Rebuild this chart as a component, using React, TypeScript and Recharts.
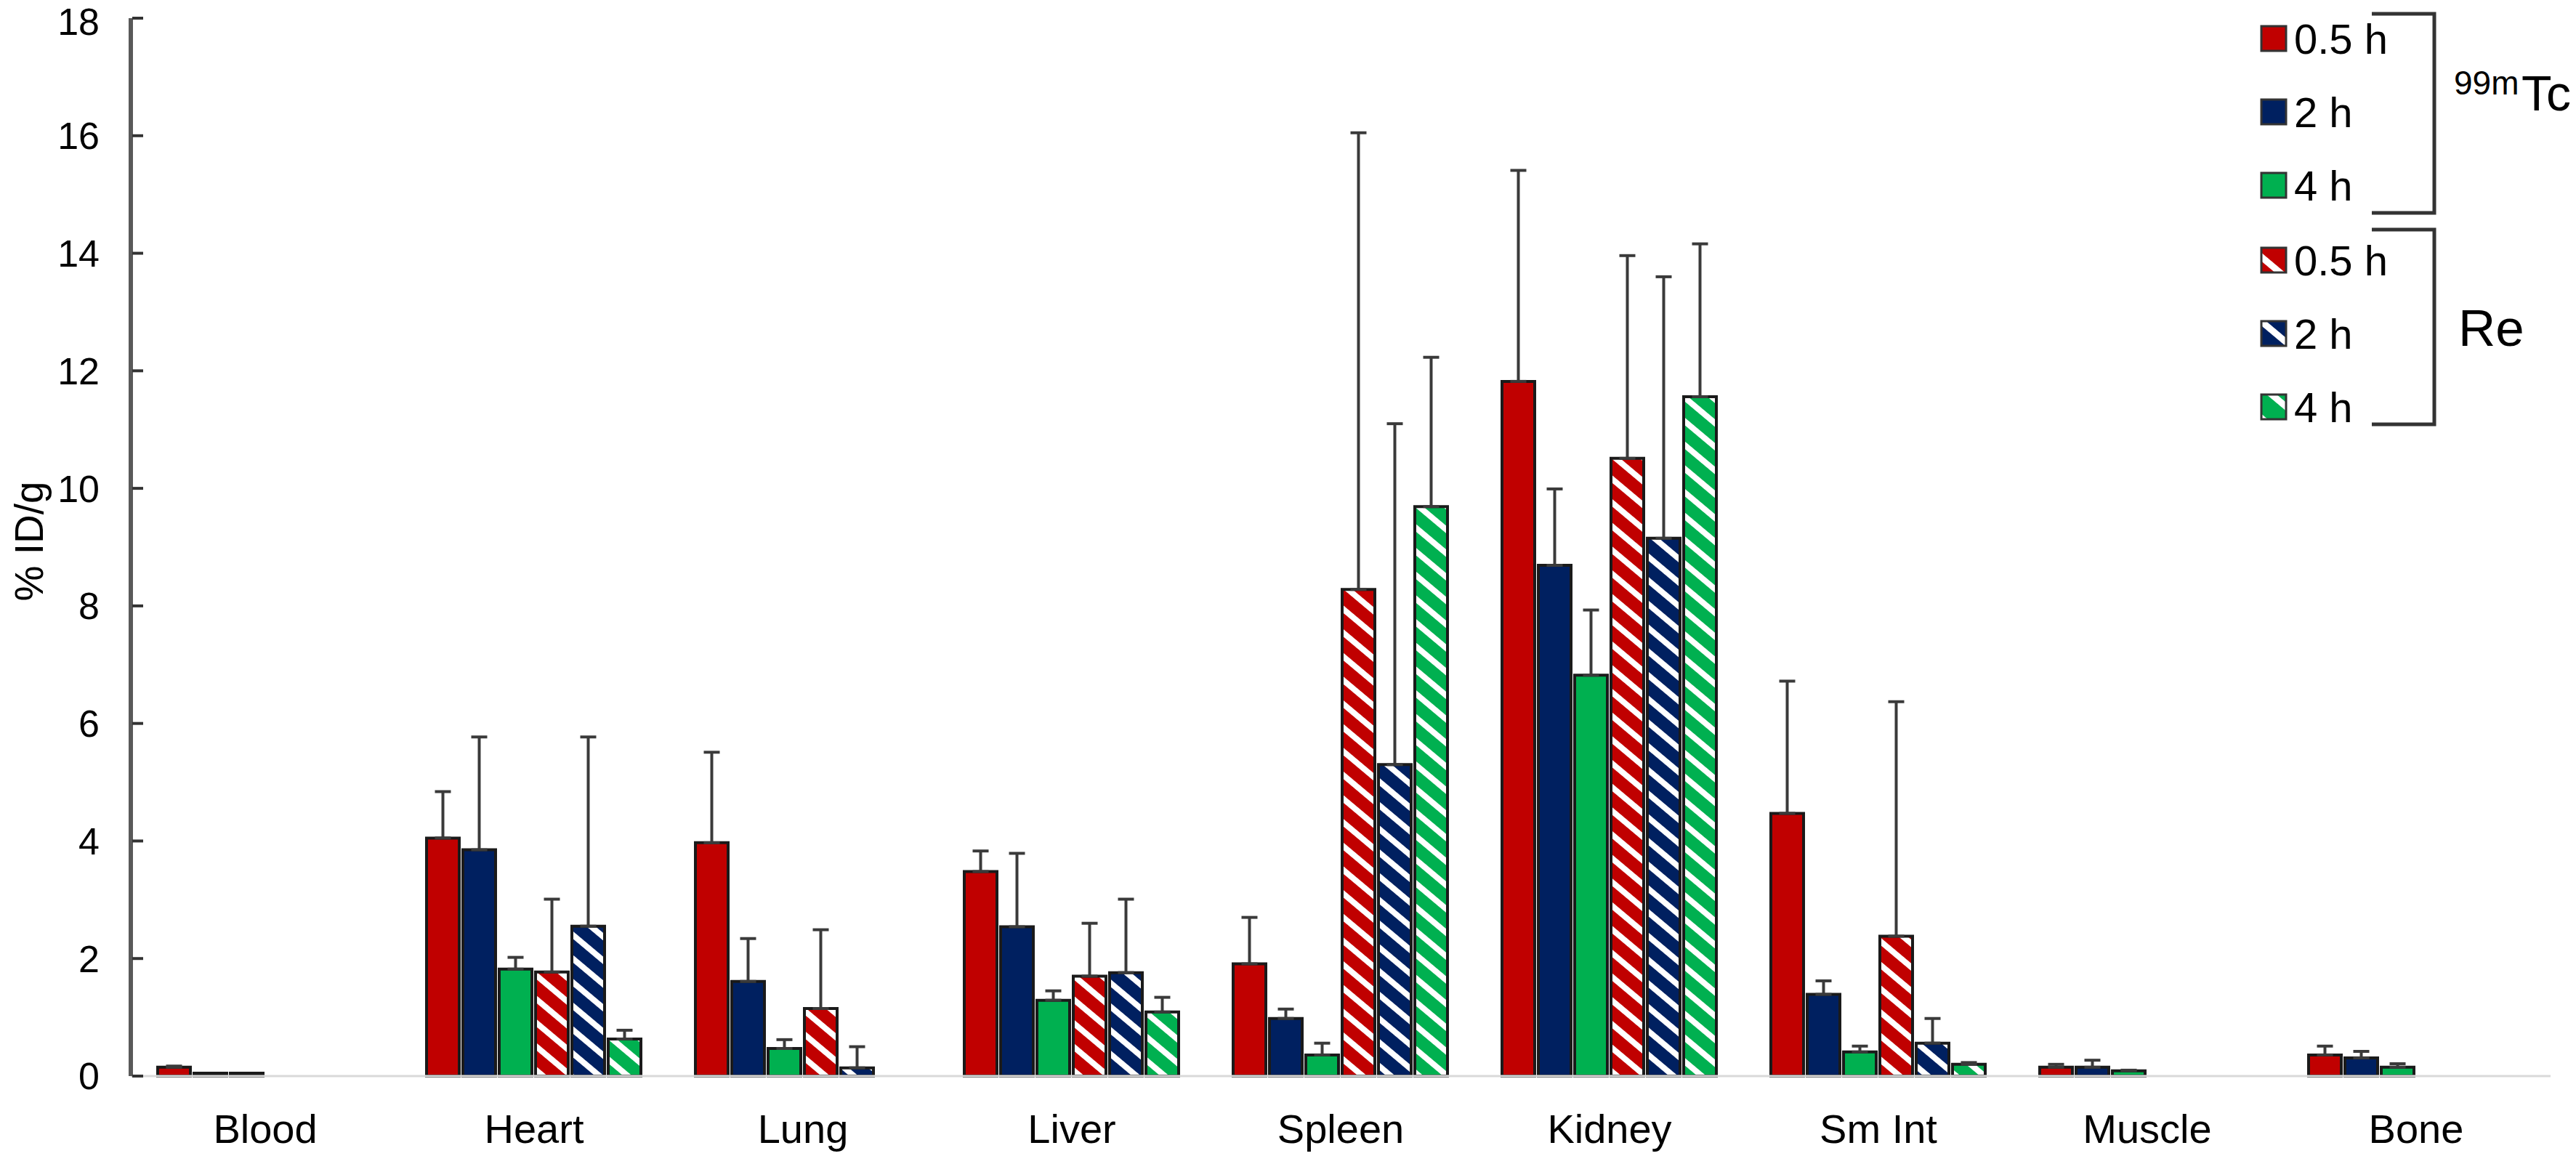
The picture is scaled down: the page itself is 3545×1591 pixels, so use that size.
import React from "react";
import { BarChart, Bar, XAxis, YAxis, ErrorBar } from "recharts";

// organs on the x axis
const categories = ["Blood", "Heart", "Lung", "Liver", "Spleen", "Kidney", "Sm Int", "Muscle", "Bone"];

// 99mTc, %ID/g
const tc05 = [0.15, 4.05, 3.97, 3.48, 1.91, 11.82, 4.47, 0.15, 0.36];
const tc2 = [0.05, 3.85, 1.61, 2.54, 0.98, 8.69, 1.39, 0.15, 0.31];
const tc4 = [0.05, 1.82, 0.47, 1.29, 0.36, 6.82, 0.41, 0.09, 0.15];
const tc05Sd = [0.02, 0.79, 1.54, 0.35, 0.79, 3.59, 2.25, 0.05, 0.15];
const tc2Sd = [null, 1.92, 0.73, 1.25, 0.16, 1.3, 0.23, 0.12, 0.11];
const tc4Sd = [null, 0.2, 0.15, 0.16, 0.2, 1.11, 0.1, 0.01, 0.06];

// Re, %ID/g
const re05 = [null, 1.77, 1.15, 1.7, 8.28, 10.51, 2.38, null, null];
const re2 = [null, 2.55, 0.14, 1.76, 5.3, 9.15, 0.56, null, null];
const re4 = [null, 0.63, null, 1.09, 9.69, 11.56, 0.2, null, null];
const re05Sd = [null, 1.24, 1.34, 0.9, 7.77, 3.45, 3.99, null, null];
const re2Sd = [null, 3.22, 0.36, 1.25, 5.8, 4.45, 0.42, null, null];
const re4Sd = [null, 0.15, null, 0.25, 2.54, 2.6, 0.03, null, null];

const yTicks = [0, 2, 4, 6, 8, 10, 12, 14, 16, 18];
const legendLabels = ["0.5 h", "2 h", "4 h", "0.5 h", "2 h", "4 h"];

const RED = "#c00000";
const NAVY = "#002060";
const GREEN = "#00b050";
const FONT = "'Liberation Sans', Arial, sans-serif";

const up = (v: number | null) => (v == null ? null : [0, v]);

const data = categories.map((name, i) => ({
    name,
    tc05: tc05[i],
    tc2: tc2[i],
    tc4: tc4[i],
    re05: re05[i],
    re2: re2[i],
    re4: re4[i],
    tc05Err: up(tc05Sd[i]),
    tc2Err: up(tc2Sd[i]),
    tc4Err: up(tc4Sd[i]),
    re05Err: up(re05Sd[i]),
    re2Err: up(re2Sd[i]),
    re4Err: up(re4Sd[i])
}));

const series = [
    { key: "tc05", fill: RED },
    { key: "tc2", fill: NAVY },
    { key: "tc4", fill: GREEN },
    { key: "re05", fill: "url(#hatch-red)" },
    { key: "re2", fill: "url(#hatch-navy)" },
    { key: "re4", fill: "url(#hatch-green)" }
];

function Hatch({ id, color, size, band }: { id: string; color: string; size: number; band: number }) {
    return (
        <pattern id={id} patternUnits="userSpaceOnUse" width={size} height={size} patternTransform="rotate(40)">
            <rect x={0} y={0} width={size} height={size} fill={color} />
            <rect x={0} y={0} width={size} height={band} fill="#fff" />
        </pattern>
    );
}

function YTick({ x, y, payload }: any) {
    // keep the top label inside the picture
    const ty = Math.max(y, 30);
    return (
        <g>
            <text x={x} y={ty} dy="0.355em" textAnchor="end" fontSize={52} fontFamily={FONT} fill="#000">
                {payload.value}
            </text>
            <line x1={x + 45} x2={x + 60} y1={y} y2={y} stroke="#333" strokeWidth={4} />
        </g>
    );
}

function Legend() {
    const rows = [53, 154, 255, 358, 459, 560];
    const fills = [RED, NAVY, GREEN, "url(#lg-red)", "url(#lg-navy)", "url(#lg-green)"];
    return (
        <svg
            width={3545}
            height={1591}
            style={{ position: "absolute", left: 0, top: 0, pointerEvents: "none" }}
        >
            <defs>
                <Hatch id="lg-red" color={RED} size={34} band={9} />
                <Hatch id="lg-navy" color={NAVY} size={34} band={9} />
                <Hatch id="lg-green" color={GREEN} size={34} band={9} />
            </defs>
            {/* y axis title */}
            <text
                transform="translate(40 745) rotate(-90)"
                textAnchor="middle"
                dominantBaseline="central"
                fontSize={55}
                fontFamily={FONT}
                fill="#000"
            >
                % ID/g
            </text>
            {legendLabels.map((label, i) => (
                <g key={i}>
                    <rect x={3112} y={rows[i] - 17} width={34} height={34} fill={fills[i]} stroke="#333" strokeWidth={3} />
                    <text x={3157} y={rows[i] + 21} fontSize={58} fontFamily={FONT} fill="#000">
                        {label}
                    </text>
                </g>
            ))}
            <path d="M3264 19 H3350 V293 H3264" fill="none" stroke="#333" strokeWidth={5} />
            <path d="M3264 316 H3350 V584 H3264" fill="none" stroke="#333" strokeWidth={5} />
            <text x={3377} y={130} fontSize={46} fontFamily={FONT} fill="#000">99m</text>
            <text x={3470} y={152} fontSize={68} fontFamily={FONT} fill="#000">Tc</text>
            <text x={3383} y={476} fontSize={71} fontFamily={FONT} fill="#000">Re</text>
        </svg>
    );
}

export default function App() {
    return (
        <div style={{ position: "absolute", left: 0, top: 0, width: 3545, height: 1591, background: "#fff" }}>
            <BarChart
                width={3545}
                height={1591}
                data={data}
                margin={{ top: 25, right: 35, bottom: 0, left: 0 }}
                barCategoryGap="10%"
                barGap={5}
            >
                <defs>
                    <Hatch id="hatch-red" color={RED} size={25} band={8} />
                    <Hatch id="hatch-navy" color={NAVY} size={25} band={8} />
                    <Hatch id="hatch-green" color={GREEN} size={25} band={8} />
                </defs>
                <XAxis
                    dataKey="name"
                    height={110}
                    axisLine={{ stroke: "#d9d9d9", strokeWidth: 3 }}
                    tickLine={false}
                    tickSize={0}
                    tickMargin={52}
                    tick={{ fontSize: 56, fontFamily: FONT, fill: "#000" }}
                />
                <YAxis
                    width={180}
                    domain={[0, 18]}
                    ticks={yTicks}
                    interval={0}
                    axisLine={{ stroke: "#595959", strokeWidth: 6 }}
                    tickLine={false}
                    tickSize={0}
                    tickMargin={43}
                    tick={<YTick />}
                />
                {series.map((s) => (
                    <Bar
                        key={s.key}
                        dataKey={s.key}
                        fill={s.fill}
                        stroke="#1a1a1a"
                        strokeWidth={4}
                        isAnimationActive={false}
                    >
                        <ErrorBar
                            dataKey={`${s.key}Err`}
                            direction="y"
                            width={11}
                            stroke="#3a3a3a"
                            strokeWidth={4}
                            isAnimationActive={false}
                        />
                    </Bar>
                ))}
            </BarChart>
            <Legend />
        </div>
    );
}
